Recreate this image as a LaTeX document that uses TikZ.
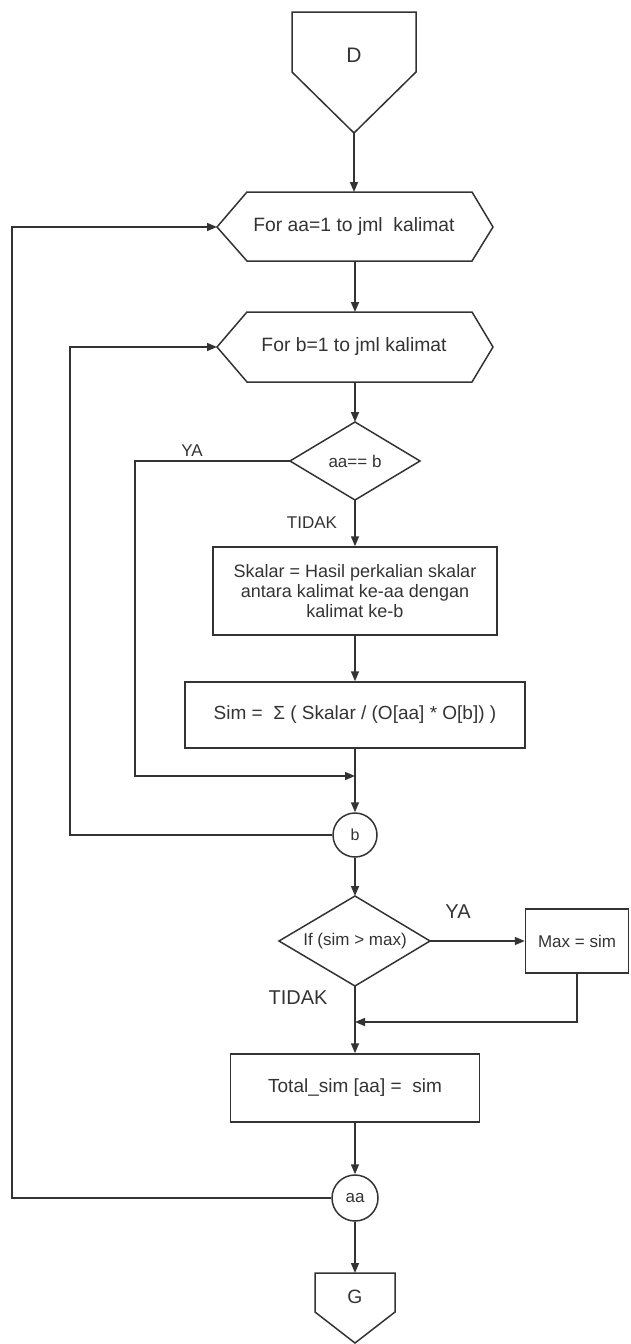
\documentclass[tikz,border=0pt]{standalone}
\usepackage{fontspec}
\setmainfont{Liberation Sans}
\usetikzlibrary{arrows.meta}
\definecolor{ink}{HTML}{333333}
\tikzset{
  line/.style={draw=ink, line width=1.5pt},
  arr/.style={line, -{Triangle[length=10pt,width=8pt]}},
  box/.style={line, rectangle, inner sep=2pt, align=center, text=ink,
    font=\fontsize{19}{20}\selectfont},
  conn/.style={line, circle, inner sep=0pt, text=ink,
    font=\fontsize{16}{18}\selectfont},
  txt/.style={inner sep=0pt, align=center, text=ink,
    font=\fontsize{19.3}{21}\selectfont},
  lbl/.style={inner sep=0pt, text=ink, font=\fontsize{17}{19}\selectfont},
  biglbl/.style={inner sep=0pt, text=ink, font=\fontsize{20}{22}\selectfont},
}
\begin{document}
\begin{tikzpicture}[x=1pt,y=-1pt]
\useasboundingbox (0,0) rectangle (630,1344);

% off-page connector D
\coordinate (Dtip) at (354,133);
\draw[line, line join=miter] (292,12) -- (416,12) -- (416,72) -- (Dtip) -- (292,72) -- cycle;
\node[txt, font=\fontsize{21}{23}\selectfont] (d) at (354,55) {D};

% outer loop header
\coordinate (h1left) at (217,227);
\coordinate (h1top) at (354,192);
\coordinate (h1bot) at (355,261);
\draw[line] (h1left) -- (247,192) -- (472,192) -- (493,227) -- (472,261) -- (247,261) -- cycle;
\node[txt] (h1) at (354,227) {For aa=1 to jml\ \ kalimat};

% inner loop header
\coordinate (h2left) at (217,347);
\coordinate (h2top) at (355,312);
\coordinate (h2bot) at (355,382);
\draw[line] (h2left) -- (247,312) -- (472,312) -- (493,347) -- (472,382) -- (247,382) -- cycle;
\node[txt] (h2) at (354,347) {For b=1 to jml kalimat};

% decision aa == b
\coordinate (d1top) at (355,422);
\coordinate (d1left) at (290,461);
\coordinate (d1bot) at (355,500);
\draw[line] (d1top) -- (420,461) -- (d1bot) -- (d1left) -- cycle;
\node[txt, font=\fontsize{17}{19}\selectfont] (d1) at (355,461) {aa== b};

% process boxes
\node[box, minimum width=284pt, minimum height=88pt,
  font=\fontsize{18}{20}\selectfont] (skalar) at (355,591)
  {Skalar = Hasil perkalian skalar\\antara kalimat ke-aa dengan\\kalimat ke-b};
\node[box, minimum width=340pt, minimum height=66pt] (sim) at (355,715)
  {Sim =\ \ Σ ( Skalar / (O[aa] * O[b]) )};

% loop-end connector b
\node[conn, minimum size=44pt] (b) at (355,835) {b};

% decision sim > max
\coordinate (d2top) at (355,896);
\coordinate (d2right) at (430,941);
\coordinate (d2bot) at (355,986);
\draw[line] (d2top) -- (d2right) -- (d2bot) -- (279,941) -- cycle;
\node[txt, font=\fontsize{17}{19}\selectfont] (d2) at (355,941) {If (sim > max)};

\node[box, minimum width=103pt, minimum height=64pt,
  font=\fontsize{17}{19}\selectfont] (max) at (577,941) {Max = sim};
\node[box, minimum width=249pt, minimum height=68pt] (total) at (355,1088)
  {Total\_sim [aa] =\ \ sim};

% loop-end connector aa
\node[conn, minimum size=46pt, font=\fontsize{17}{19}\selectfont] (aa) at (355,1198) {aa};

% off-page connector G
\coordinate (Gtop) at (355,1273);
\coordinate (Gtip) at (355,1343);
\draw[line, line join=miter] (315,1273) -- (395,1273) -- (395,1312) -- (Gtip) -- (315,1312) -- cycle;
\node[txt] (g) at (355,1297) {G};

% labels
\node[lbl] (ya1) at (192,451) {YA};
\node[lbl] (tidak1) at (312,523) {TIDAK};
\node[biglbl] (ya2) at (458,912) {YA};
\node[biglbl] (tidak2) at (298,998) {TIDAK};

% helper coordinates for bends and joins
\coordinate (loopaa) at (12,0);
\coordinate (loopb) at (70,0);
\coordinate (loopya) at (135,0);
\coordinate (join1) at (355,776);
\coordinate (join2) at (355,1022);

% main flow
\draw[arr] (Dtip) -- (h1top);
\draw[arr] (h1bot) -- (h2top);
\draw[arr] (h2bot) -- (d1top);
\draw[arr] (d1bot) -- (skalar.north);
\draw[arr] (skalar.south) -- (sim.north);
\draw[arr] (sim.south) -- (b.north);
\draw[arr] (d1left) -- (d1left -| loopya) |- (join1);
\draw[arr] (b.south) -- (d2top);
\draw[arr] (d2right) -- (max.west);
\draw[arr] (max.south) |- (join2);
\draw[arr] (d2bot) -- (total.north);
\draw[arr] (total.south) -- (aa.north);
\draw[arr] (aa.south) -- (Gtop);

% loop back edges
\draw[arr] (b.west) -- (b.west -| loopb) |- (h2left);
\draw[arr] (aa.west) -- (aa.west -| loopaa) |- (h1left);
\end{tikzpicture}
\end{document}
